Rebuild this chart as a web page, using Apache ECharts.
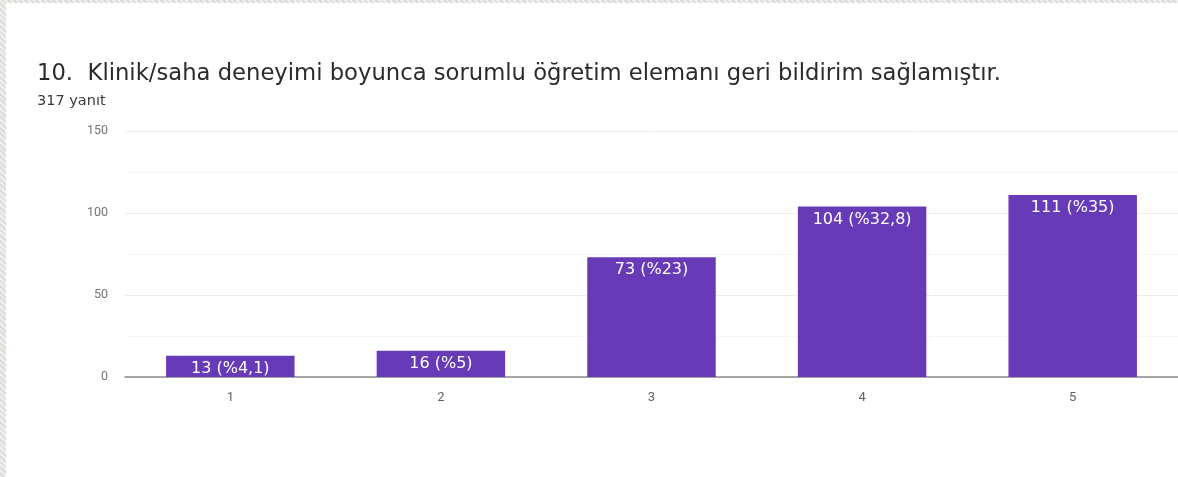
<!DOCTYPE html>
<html>
<head>
<meta charset="utf-8">
<script src="https://cdn.jsdelivr.net/npm/echarts@6/dist/echarts.min.js"></script>
<style>
  html, body { margin: 0; padding: 0; }
  body {
    width: 1178px; height: 477px; overflow: hidden; position: relative;
    background: #e4e3de;
    background-image: repeating-linear-gradient(45deg, rgba(255,255,255,0.45) 0 2px, rgba(0,0,0,0.03) 2px 4px);
  }
  #card {
    position: absolute; left: 6px; top: 3px; width: 1172px; height: 474px;
    background: #ffffff;
  }
</style>
</head>
<body>
<div id="card"></div>
<script>
// Survey question and response count
const questionTitle = '10.  Klinik/saha deneyimi boyunca sorumlu öğretim elemanı geri bildirim sağlamıştır.';
const responseText = '317 yanıt';

// Likert scale answers and their counts
const categories = ['1', '2', '3', '4', '5'];
const counts = [13, 16, 73, 104, 111];
const percentLabels = ['%4,1', '%5', '%23', '%32,8', '%35'];

// Value axis ticks
const yMin = 0, yMax = 150, yStep = 50;

const wideFont = '"DejaVu Sans", "Liberation Sans", Arial, sans-serif';

const chart = echarts.init(document.getElementById('card'), null, { renderer: 'canvas' });

chart.setOption({
  animation: false,
  title: [
    {
      text: questionTitle,
      left: 26,
      top: 55,
      textStyle: { fontFamily: wideFont, fontSize: 22.7, fontWeight: 'normal', color: '#2b2b2b' }
    },
    {
      text: responseText,
      left: 26,
      top: 86,
      textStyle: { fontFamily: wideFont, fontSize: 14.5, fontWeight: 'normal', color: '#3a3a3a' }
    }
  ],
  grid: { left: 119, top: 128, width: 1060, height: 246, containLabel: false },
  xAxis: {
    type: 'category',
    data: categories,
    axisLine: { lineStyle: { color: '#8a8a8a', width: 1.5 } },
    axisTick: { show: false },
    axisLabel: { color: '#5f6368', fontFamily: 'Roboto', fontSize: 13, margin: 14 }
  },
  yAxis: {
    type: 'value',
    min: yMin, max: yMax, interval: yStep,
    axisLine: { show: false },
    axisTick: { show: false },
    axisLabel: { color: '#757575', fontFamily: 'Roboto', fontSize: 12.5, margin: 17 },
    splitLine: { lineStyle: { color: '#ececec' } },
    minorTick: { show: false, splitNumber: 2 },
    minorSplitLine: { show: true, lineStyle: { color: '#f6f6f6' } }
  },
  series: [{
    type: 'bar',
    data: counts,
    barWidth: '61%',
    itemStyle: { color: '#673ab7' },
    label: {
      show: true,
      position: 'insideTop',
      distance: 5,
      color: '#ffffff',
      fontFamily: wideFont,
      fontSize: 16,
      formatter: p => p.value + ' (' + percentLabels[p.dataIndex] + ')'
    }
  }]
});
</script>
</body>
</html>
